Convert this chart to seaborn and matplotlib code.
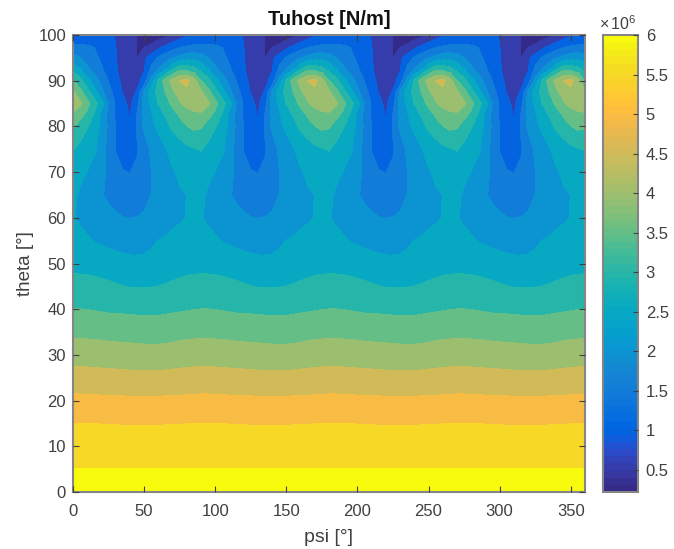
import numpy as np
import matplotlib
matplotlib.use("Agg")
import matplotlib.pyplot as plt
from matplotlib.cm import ScalarMappable
from matplotlib.colors import ListedColormap, Normalize
import seaborn as sns

# one 90 degree period of the field, values in units of 1e6 N/m
psi_period = [0, 5, 10, 15, 20, 25, 30, 35, 40, 45, 50, 55, 60, 65, 70, 75, 80, 85]
theta = [0, 5, 10, 15, 20, 25, 30, 35, 40, 45, 50, 55, 60, 65, 70, 75, 80, 82.5, 85, 87.5, 90, 92.5, 95, 97.5, 100]
tuhost_period = [
    [6.04] * 18,
    [6.001] * 18,
    [5.75] * 18,
    [5.50, 5.50, 5.50, 5.495, 5.49, 5.485, 5.48, 5.478, 5.476, 5.476, 5.476, 5.476, 5.476, 5.48, 5.484, 5.488, 5.492, 5.497],
    [5.12, 5.12, 5.11, 5.105, 5.10, 5.095, 5.09, 5.085, 5.08, 5.08, 5.08, 5.08, 5.08, 5.085, 5.09, 5.095, 5.10, 5.11],
    [4.70, 4.70, 4.69, 4.68, 4.67, 4.665, 4.66, 4.65, 4.64, 4.64, 4.64, 4.64, 4.64, 4.65, 4.66, 4.67, 4.68, 4.69],
    [4.29, 4.29, 4.28, 4.27, 4.26, 4.24, 4.23, 4.22, 4.21, 4.20, 4.19, 4.185, 4.18, 4.20, 4.22, 4.25, 4.27, 4.28],
    [3.88, 3.88, 3.87, 3.86, 3.85, 3.83, 3.82, 3.81, 3.80, 3.79, 3.78, 3.78, 3.78, 3.79, 3.81, 3.84, 3.86, 3.87],
    [3.50, 3.50, 3.49, 3.47, 3.45, 3.43, 3.42, 3.415, 3.41, 3.39, 3.39, 3.39, 3.39, 3.41, 3.43, 3.45, 3.47, 3.49],
    [3.175, 3.17, 3.16, 3.14, 3.11, 3.08, 3.04, 3.01, 2.98, 2.975, 2.975, 2.985, 3.00, 3.03, 3.07, 3.11, 3.14, 3.165],
    [2.85, 2.85, 2.84, 2.82, 2.79, 2.75, 2.70, 2.66, 2.62, 2.61, 2.62, 2.65, 2.70, 2.74, 2.78, 2.81, 2.84, 2.85],
    [2.68, 2.62, 2.56, 2.48, 2.42, 2.37, 2.33, 2.30, 2.29, 2.30, 2.33, 2.41, 2.50, 2.55, 2.60, 2.64, 2.66, 2.68],
    [2.53, 2.42, 2.33, 2.26, 2.19, 2.12, 2.06, 2.01, 1.99, 2.01, 2.06, 2.14, 2.22, 2.31, 2.39, 2.45, 2.505, 2.53],
    [2.60, 2.42, 2.28, 2.15, 2.03, 1.92, 1.83, 1.75, 1.72, 1.75, 1.85, 2.00, 2.12, 2.25, 2.35, 2.44, 2.505, 2.56],
    [2.75, 2.62, 2.48, 2.28, 2.10, 1.92, 1.72, 1.52, 1.49, 1.60, 1.78, 1.98, 2.16, 2.30, 2.45, 2.58, 2.66, 2.72],
    [3.02, 2.86, 2.72, 2.58, 2.25, 1.82, 1.46, 1.32, 1.25, 1.44, 1.76, 2.07, 2.27, 2.46, 2.65, 2.78, 2.87, 2.96],
    [3.55, 3.25, 3.03, 2.73, 2.38, 1.88, 1.47, 1.22, 1.05, 1.55, 2.07, 2.33, 2.60, 2.85, 3.08, 3.25, 3.48, 3.60],
    [3.90, 3.65, 3.35, 2.92, 2.35, 1.85, 1.42, 1.18, 0.97, 1.50, 2.10, 2.43, 2.75, 3.03, 3.30, 3.55, 3.72, 3.85],
    [4.30, 4.08, 3.65, 3.20, 2.70, 1.95, 1.42, 1.12, 0.88, 1.32, 2.15, 2.58, 3.00, 3.30, 3.60, 3.93, 4.15, 4.28],
    [4.08, 3.65, 3.15, 2.68, 2.12, 1.65, 1.30, 0.97, 0.78, 1.05, 2.10, 2.75, 3.15, 3.50, 3.88, 4.20, 4.35, 4.20],
    [3.50, 3.15, 2.70, 2.25, 1.85, 1.47, 1.12, 0.90, 0.75, 0.80, 1.20, 2.15, 3.05, 3.75, 4.15, 4.50, 4.65, 4.20],
    [2.85, 2.50, 2.10, 1.80, 1.55, 1.30, 1.05, 0.82, 0.68, 0.62, 0.95, 1.60, 2.00, 2.35, 2.95, 3.40, 3.30, 3.15],
    [2.25, 2.00, 1.80, 1.60, 1.42, 1.20, 1.02, 0.82, 0.65, 0.49, 0.90, 1.20, 1.55, 1.78, 1.97, 2.15, 2.30, 2.32],
    [1.56, 1.56, 1.53, 1.48, 1.30, 1.15, 1.00, 0.80, 0.62, 0.49, 0.46, 0.55, 0.80, 1.05, 1.28, 1.42, 1.52, 1.56],
    [1.20, 1.20, 1.20, 1.20, 1.15, 1.08, 0.98, 0.80, 0.62, 0.49, 0.36, 0.27, 0.25, 0.34, 0.50, 0.72, 0.92, 1.02],
]
contour_levels = [0.22, 0.5, 1, 1.5, 2, 2.5, 3, 3.5, 4, 4.5, 5, 5.5, 6, 6.1]
xtick_values = [0, 50, 100, 150, 200, 250, 300, 350]
ytick_values = [0, 10, 20, 30, 40, 50, 60, 70, 80, 90, 100]
cbar_ticks = [0.5, 1, 1.5, 2, 2.5, 3, 3.5, 4, 4.5, 5, 5.5, 6]
cbar_labels = ["0.5", "1", "1.5", "2", "2.5", "3", "3.5", "4", "4.5", "5", "5.5", "6"]
parula = [
    (.2081,.1663,.5292),(.2116,.1898,.5777),(.2123,.2138,.6270),(.2081,.2386,.6771),
    (.1959,.2645,.7279),(.1707,.2919,.7792),(.1253,.3242,.8303),(.0591,.3598,.8683),
    (.0117,.3875,.8820),(.0060,.4086,.8828),(.0165,.4266,.8786),(.0329,.4430,.8720),
    (.0498,.4586,.8641),(.0629,.4737,.8554),(.0723,.4887,.8467),(.0779,.5040,.8384),
    (.0793,.5200,.8312),(.0749,.5375,.8263),(.0641,.5570,.8240),(.0488,.5772,.8228),
    (.0343,.5966,.8199),(.0265,.6137,.8135),(.0239,.6287,.8038),(.0231,.6418,.7913),
    (.0228,.6535,.7768),(.0267,.6642,.7607),(.0384,.6743,.7436),(.0590,.6838,.7254),
    (.0843,.6928,.7062),(.1133,.7015,.6859),(.1453,.7098,.6646),(.1801,.7177,.6424),
    (.2178,.7250,.6193),(.2586,.7317,.5954),(.3022,.7376,.5712),(.3482,.7424,.5473),
    (.3953,.7459,.5244),(.4420,.7481,.5033),(.4871,.7491,.4840),(.5300,.7491,.4661),
    (.5709,.7485,.4494),(.6099,.7473,.4337),(.6473,.7456,.4188),(.6834,.7435,.4044),
    (.7184,.7411,.3905),(.7525,.7384,.3768),(.7858,.7356,.3633),(.8185,.7327,.3498),
    (.8507,.7299,.3360),(.8824,.7274,.3217),(.9139,.7258,.3063),(.9450,.7261,.2886),
    (.9739,.7314,.2666),(.9938,.7455,.2403),(.9990,.7653,.2164),(.9955,.7861,.1967),
    (.9880,.8066,.1794),(.9789,.8271,.1633),(.9697,.8481,.1475),(.9626,.8705,.1309),
    (.9589,.8949,.1132),(.9598,.9218,.0948),(.9661,.9514,.0755),(.9763,.9831,.0538),
]

sns.set_theme(style="white")
plt.rcParams["font.family"] = ["Liberation Sans", "DejaVu Sans"]
plt.rcParams["mathtext.fontset"] = "custom"
plt.rcParams["mathtext.rm"] = "Liberation Sans"
plt.rcParams["mathtext.default"] = "regular"

TEXT = "#404040"
EDGE = "#858585"
TICK = "#404040"
W, H = 674, 549

cmap = ListedColormap(sns.color_palette(parula, n_colors=64))
norm = Normalize(vmin=0.22, vmax=6.0)

psi = np.concatenate([np.array(psi_period) + 90 * k for k in range(4)] + [[360]])
field = np.array(tuhost_period)
Z = np.hstack([field, field, field, field, field[:, :1]])

fig = plt.figure(figsize=(W / 100, H / 100), dpi=100, facecolor="white")
ax = fig.add_axes([73 / W, 1 - 492 / H, (585 - 73) / W, (492 - 35) / H])
cax = fig.add_axes([603 / W, 1 - 492 / H, (638 - 603) / W, (492 - 35) / H])

band_colors = [cmap(norm(v)) for v in contour_levels[:-1]]
cs = ax.contourf(psi, theta, Z, levels=contour_levels, colors=band_colors)
cs.set_edgecolor("face")
cs.set_linewidth(0.3)

ax.set_axisbelow(False)
ax.set_xlim(0, 360)
ax.set_ylim(0, 100)
ax.set_xticks(xtick_values)
ax.set_yticks(ytick_values)
ax.tick_params(direction="in", length=4, width=0.8, color=TICK, top=True, right=True,
               bottom=True, left=True, labelsize=12, labelcolor=TEXT)
ax.tick_params(axis="x", pad=9)
ax.tick_params(axis="y", pad=5)
ax.set_xlabel("psi [°]", fontsize=14, color=TEXT, labelpad=7)
ax.set_ylabel("theta [°]", fontsize=13.5, color=TEXT, labelpad=3)
ax.set_title("Tuhost [N/m]", fontsize=14.5, fontweight="bold", color="#111111", pad=7)
for s in ax.spines.values():
    s.set_color(EDGE)
    s.set_linewidth(1.5)

cb = fig.colorbar(ScalarMappable(norm=norm, cmap=cmap), cax=cax)
cb.set_ticks(cbar_ticks)
cb.set_ticklabels(cbar_labels)
cax.set_axisbelow(False)
cax.tick_params(direction="in", length=3.5, width=0.8, color=TICK, right=True, left=False,
                labelsize=12, labelcolor=TEXT, pad=5.5)
cb.outline.set_edgecolor(EDGE)
cb.outline.set_linewidth(1.5)
fig.text(599 / W, 1 - 30 / H, r"$\times\,10^{6}$", fontsize=11.5, color=TEXT, ha="left", va="baseline")

fig.savefig("out.png", dpi=100)
